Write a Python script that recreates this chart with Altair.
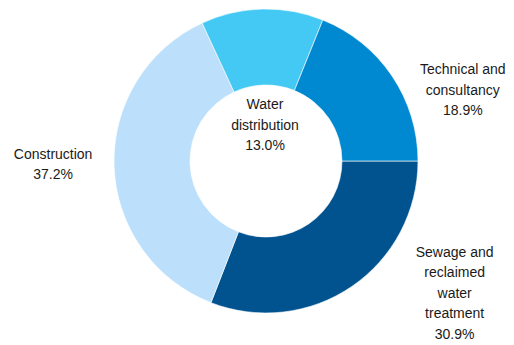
import math
import altair as alt
import pandas as pd

categories = ["Sewage and reclaimed water treatment", "Construction",
              "Water distribution", "Technical and consultancy"]
shares = [30.9, 37.2, 13.0, 18.9]
label_lines = [
    "Sewage and\nreclaimed\nwater\ntreatment\n30.9%",
    "Construction\n37.2%",
    "Water\ndistribution\n13.0%",
    "Technical and\nconsultancy\n18.9%",
]
colors = ["#00538F", "#BCE0FB", "#44C8F4", "#0089D1"]

df = pd.DataFrame({
    "category": categories,
    "share": shares,
    "label": label_lines,
    "idx": list(range(len(categories))),
})

CX, CY = 258, 153
FONT = "Liberation Sans, Arial"

theta_enc = alt.Theta("share:Q", stack=True,
                      scale=alt.Scale(range=[math.pi / 2, math.pi / 2 + 2 * math.pi]))

base = alt.Chart(df).encode(
    theta=theta_enc,
    order=alt.Order("idx:Q"),
    x=alt.value(CX),
    y=alt.value(CY),
)

arcs = base.mark_arc(outerRadius=152, innerRadius=76, stroke="white", strokeWidth=0.6).encode(
    color=alt.Color("category:N", sort=categories,
                    scale=alt.Scale(domain=categories, range=colors), legend=None),
)

def label_layer(cat, radius, dx, dy):
    return base.transform_calculate(
        lbl=f"datum.category == '{cat}' ? datum.label : ''"
    ).mark_text(
        radius=radius, dx=dx, dy=dy, font=FONT, fontSize=14, lineHeight=20.5,
        lineBreak="\n", align="center", baseline="middle", color="#1a1a1a",
    ).encode(text="lbl:N")

layers = [
    arcs,
    label_layer(categories[0], 180, 87, -57),
    label_layer(categories[1], 213, 0, -13),
    label_layer(categories[2], 0, -1, -56),
    label_layer(categories[3], 200, 31, 21),
]

chart = alt.layer(*layers).properties(
    width=498, height=337,
    autosize=alt.AutoSizeParams(type="none"),
    padding=0,
).configure_view(stroke=None)

chart.save("out.html", embed_options={"renderer": "svg", "actions": False})
